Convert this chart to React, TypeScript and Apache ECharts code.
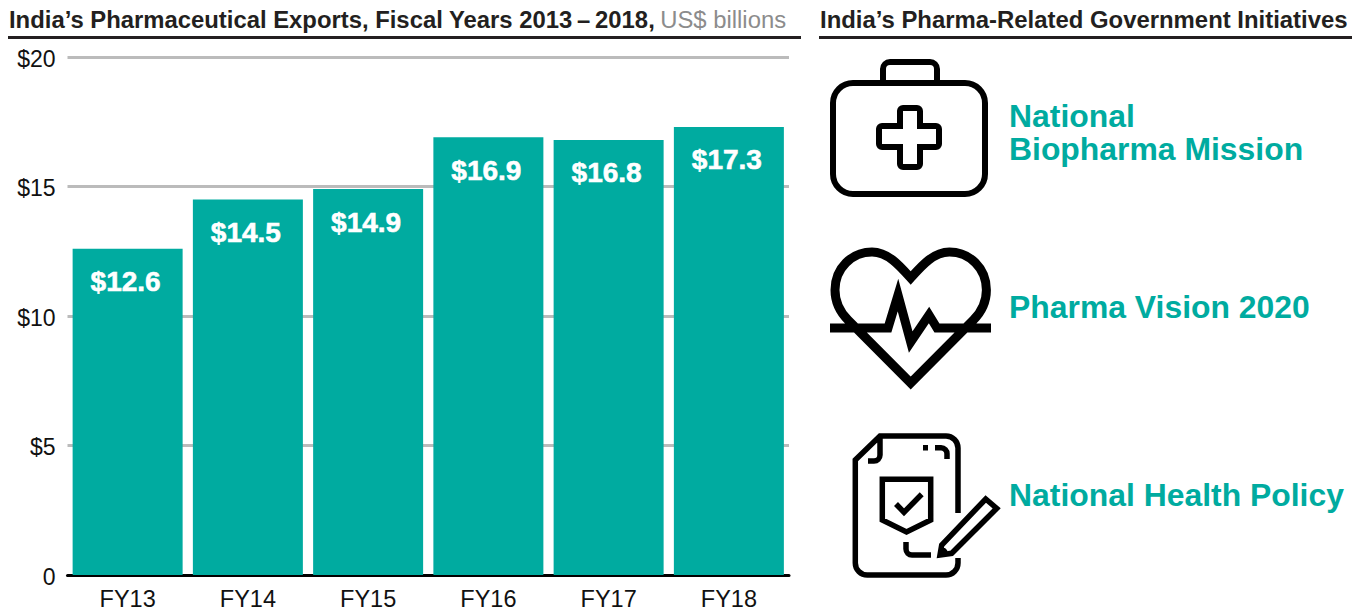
import React, { useEffect, useRef } from "react";
import * as echarts from "echarts";

const categories = ["FY13", "FY14", "FY15", "FY16", "FY17", "FY18"];
const exportsValues = [12.6, 14.5, 14.9, 16.9, 16.8, 17.3];
const yTicks = [0, 5, 10, 15, 20];
const leftTitle = "India’s Pharmaceutical Exports, Fiscal Years 2013\u2009–\u20092018,";
const leftUnit = "US$ billions";
const rightTitle = "India’s Pharma-Related Government Initiatives";
const initiativeLines = ["National", "Biopharma Mission", "Pharma Vision 2020", "National Health Policy"];

const FONT = "'Liberation Sans', Arial, sans-serif";
const TEAL = "#00ABA0";
const INK = "#231F20";

const kitPath =
  "M853 83 H965 A20 20 0 0 1 985 103 V174 A20 20 0 0 1 965 194 H853 A20 20 0 0 1 833 174 V103 A20 20 0 0 1 853 83 Z " +
  "M883 83 V69 A7 7 0 0 1 890 62 H930 A7 7 0 0 1 937 69 V83 " +
  "M903 108 H917 A3 3 0 0 1 920 111 V126 H936 A3 3 0 0 1 939 129 V144 A3 3 0 0 1 936 147 H920 V164 A3 3 0 0 1 917 167 H903 A3 3 0 0 1 900 164 V147 H882 A3 3 0 0 1 879 144 V129 A3 3 0 0 1 882 126 H900 V111 A3 3 0 0 1 903 108 Z";

const heartPath =
  "M910.7 383 L848 320 C840 312 835 302 835 290 C835 268 852 252 872 252 C888 252 900 266 910.7 278 " +
  "C921.4 266 933.4 252 949.4 252 C969.4 252 986.4 268 986.4 290 C986.4 302 981.4 312 973.4 320 Z " +
  "M830 328 H888 L898 295 L910.7 342 L929 315 L937 328 H991";

const docPath =
  "M958 513 V448 A12 12 0 0 0 946 436 H880 L855.3 460 V563 A12 12 0 0 0 867.3 575 H946 A12 12 0 0 0 958 563 V558 " +
  "M880 436 V455 A6 6 0 0 1 874 461 H868 " +
  "M923 447.7 H928 M935 447.7 H941 A6 6 0 0 1 947 454 V459 " +
  "M882.3 479.3 H930.7 V520 L906.5 532 L882.3 520 Z " +
  "M896 504 L904 512.3 L921.7 494.3 " +
  "M906 542 V549 A6 6 0 0 0 912 555 H931 " +
  "M940 555 L941.7 545 L985.7 499 L996.7 508.3 L951.7 553.3 Z " +
  "M941 553 L945.5 548.5";

echarts.graphic.registerShape("kitIcon", echarts.graphic.extendPath(kitPath, {}));
echarts.graphic.registerShape("heartIcon", echarts.graphic.extendPath(heartPath, {}));
echarts.graphic.registerShape("docIcon", echarts.graphic.extendPath(docPath, {}));

const rule = (x: number, width: number) => ({
  type: "rect",
  shape: { x, y: 36, width, height: 3 },
  style: { fill: INK },
});
const icon = (type: string, lineWidth: number) => ({
  type,
  x: 0,
  y: 0,
  style: { fill: "none", stroke: "#000", lineWidth, lineJoin: "miter" },
});
const initiative = (text: string, y: number) => ({
  type: "text",
  x: 1009,
  y,
  style: {
    text,
    fill: TEAL,
    font: `bold 31.9px ${FONT}`,
    textAlign: "left",
    textVerticalAlign: "middle",
  },
});

export default function App() {
  const ref = useRef<HTMLDivElement>(null);
  useEffect(() => {
    const chart = echarts.init(ref.current!, undefined, { renderer: "svg" });
    chart.setOption({
      animation: false,
      backgroundColor: "#fff",
      textStyle: { fontFamily: FONT },
      title: [
        {
          text: `{b|${leftTitle}} {g|${leftUnit}}`,
          left: 9,
          top: 7.5,
          padding: 0,
          textStyle: {
            rich: {
              b: { fontFamily: FONT, fontWeight: "bold", fontSize: 23.85, color: INK },
              g: { fontFamily: FONT, fontWeight: "normal", fontSize: 23.85, color: "#8C8C8C" },
            },
          },
        },
        {
          text: rightTitle,
          left: 820,
          top: 7.5,
          padding: 0,
          textStyle: { fontFamily: FONT, fontWeight: "bold", fontSize: 23.9, color: INK },
        },
      ],
      grid: { left: 67.5, right: 572, top: 57, bottom: 37 },
      xAxis: {
        type: "category",
        data: categories,
        axisTick: { show: false },
        axisLine: { lineStyle: { color: "#000", width: 3 } },
        axisLabel: { color: "#111", fontSize: 23.5, fontFamily: FONT, margin: 12 },
      },
      yAxis: {
        type: "value",
        min: yTicks[0],
        max: yTicks[yTicks.length - 1],
        interval: 5,
        axisLine: { show: false },
        axisTick: { show: false },
        splitLine: { lineStyle: { color: "#BBBBBB", width: 3 } },
        axisLabel: {
          color: "#111",
          fontSize: 23,
          fontFamily: FONT,
          margin: 12,
          verticalAlign: "top",
          lineHeight: 3,
          formatter: (v: number) => (v === 0 ? "0" : `$${v}`),
        },
      },
      series: [
        {
          type: "bar",
          data: exportsValues,
          barWidth: 110,
          itemStyle: { color: TEAL },
          label: {
            show: true,
            position: "insideTop",
            distance: 19,
            offset: [-2, 0],
            color: "#fff",
            fontFamily: FONT,
            fontWeight: "bold",
            fontSize: 28,
            textBorderColor: "#fff",
            textBorderWidth: 0.6,
            formatter: (p: any) => `$${p.value.toFixed(1)}`,
          },
        },
      ],
      graphic: [
        rule(8, 793),
        rule(819, 533),
        icon("kitIcon", 6),
        icon("heartIcon", 9),
        icon("docIcon", 5.5),
        initiative(initiativeLines[0], 115.5),
        initiative(initiativeLines[1], 148.5),
        initiative(initiativeLines[2], 307),
        initiative(initiativeLines[3], 495),
      ],
    });
    return () => chart.dispose();
  }, []);
  return <div ref={ref} style={{ position: "fixed", left: 0, top: 0, width: 1361, height: 612 }} />;
}
